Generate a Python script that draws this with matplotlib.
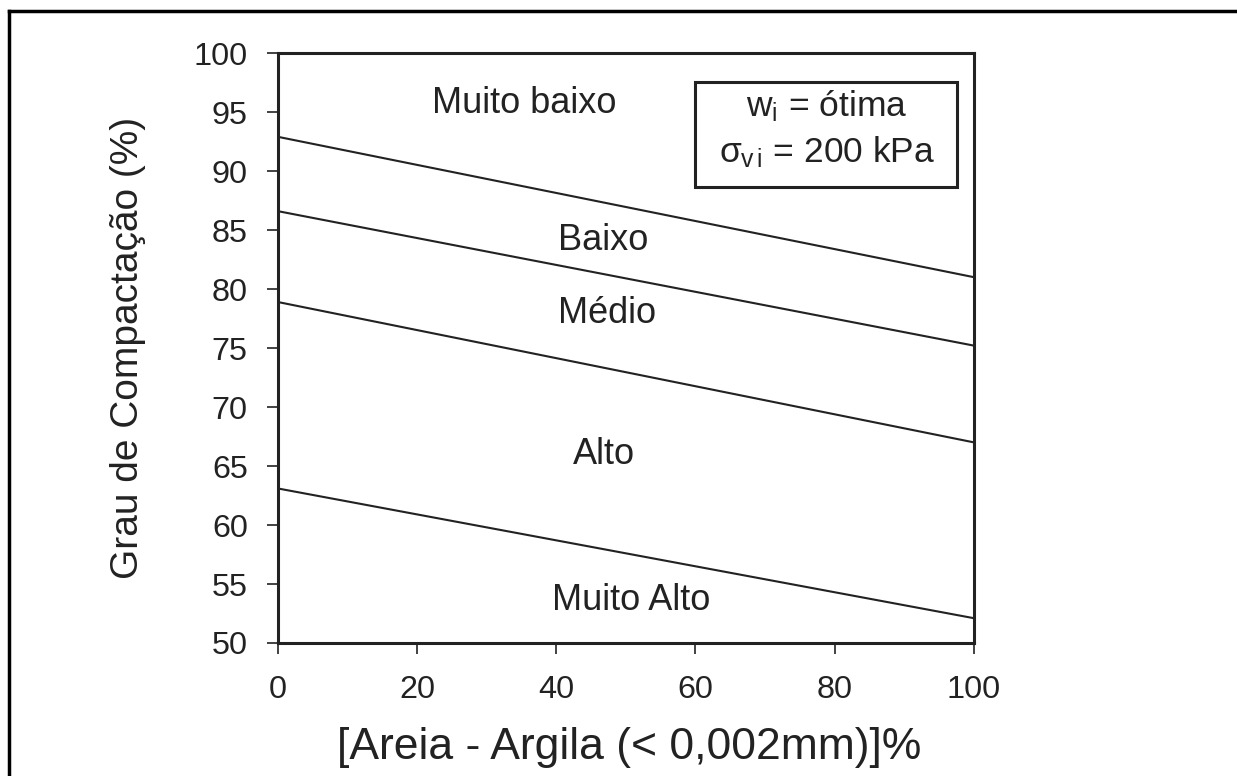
import matplotlib
matplotlib.use("Agg")
import matplotlib.pyplot as plt
from matplotlib.lines import Line2D
from matplotlib.patches import Rectangle

plt.rcParams['font.family'] = ['Liberation Sans', 'DejaVu Sans']
plt.rcParams['mathtext.fontset'] = 'custom'
plt.rcParams['mathtext.rm'] = 'Liberation Sans'
plt.rcParams['mathtext.it'] = 'Liberation Sans'
plt.rcParams['mathtext.bf'] = 'Liberation Sans'

# Data
x_ends = [0, 100]
line_muito_baixo_baixo = [92.9, 81.0]
line_baixo_medio = [86.6, 75.2]
line_medio_alto = [78.9, 67.0]
line_alto_muito_alto = [63.1, 52.1]
boundaries = [line_muito_baixo_baixo, line_baixo_medio, line_medio_alto, line_alto_muito_alto]

region_labels = ["Muito baixo", "Baixo", "Médio", "Alto", "Muito Alto"]
region_x = [22.2, 40.3, 40.3, 42.4, 39.4]
region_y = [94.9, 83.3, 77.1, 65.2, 52.8]

xticks = [0, 20, 40, 60, 80, 100]
yticks = [50, 55, 60, 65, 70, 75, 80, 85, 90, 95, 100]

ink = '#222222'
W, H = 1237, 776

fig = plt.figure(figsize=(W/100, H/100), dpi=100)
ax = fig.add_axes([277.7/W, 1-643/H, (974-277.7)/W, (643-53)/H])

for b in boundaries:
    ax.plot(x_ends, b, color=ink, lw=1.5, solid_capstyle='butt')

for lab, xx, yy in zip(region_labels, region_x, region_y):
    ax.text(xx, yy, lab, ha='left', va='baseline', fontsize=26, color=ink)

ax.set_xlim(0, 100)
ax.set_ylim(50, 100)
ax.set_xticks(xticks)
ax.set_yticks(yticks)
ax.tick_params(direction='out', length=8, width=1.2, labelsize=23.3, colors=ink)
ax.tick_params(axis='x', pad=15)
ax.tick_params(axis='y', pad=13.5)
for s in ax.spines.values():
    s.set_linewidth(2.2)
    s.set_color(ink)

ax.set_xlabel("[Areia - Argila (< 0,002mm)]%", fontsize=32, color=ink)
ax.set_ylabel("Grau de Compactação (%)", fontsize=28, color=ink)
ax.xaxis.set_label_coords(0.505, (643-727)/590)
ax.yaxis.set_label_coords((146-277.7)/696.3, 0.5)

# Condition box
fig.patches.append(Rectangle((695/W, 1-186.7/H), (956.7-695)/W, (186.7-81.7)/H,
                             transform=fig.transFigure, fill=False, lw=2.2, edgecolor=ink))
fig.text(827/W, 1-116.7/H, r"w$_\mathrm{i}$ = ótima", ha='center', va='baseline', fontsize=25.5, color=ink)
fig.text(827/W, 1-162.5/H, r"$\sigma_\mathrm{v\,i}$ = 200 kPa", ha='center', va='baseline', fontsize=25.5, color=ink)

# Outer frame (top and left)
fig.add_artist(Line2D([9/W, 1.0], [1-11/H, 1-11/H], transform=fig.transFigure, color='black', lw=2.5))
fig.add_artist(Line2D([9/W, 9/W], [0.0, 1-11/H], transform=fig.transFigure, color='black', lw=2.5))

fig.savefig("out.png", dpi=100)
